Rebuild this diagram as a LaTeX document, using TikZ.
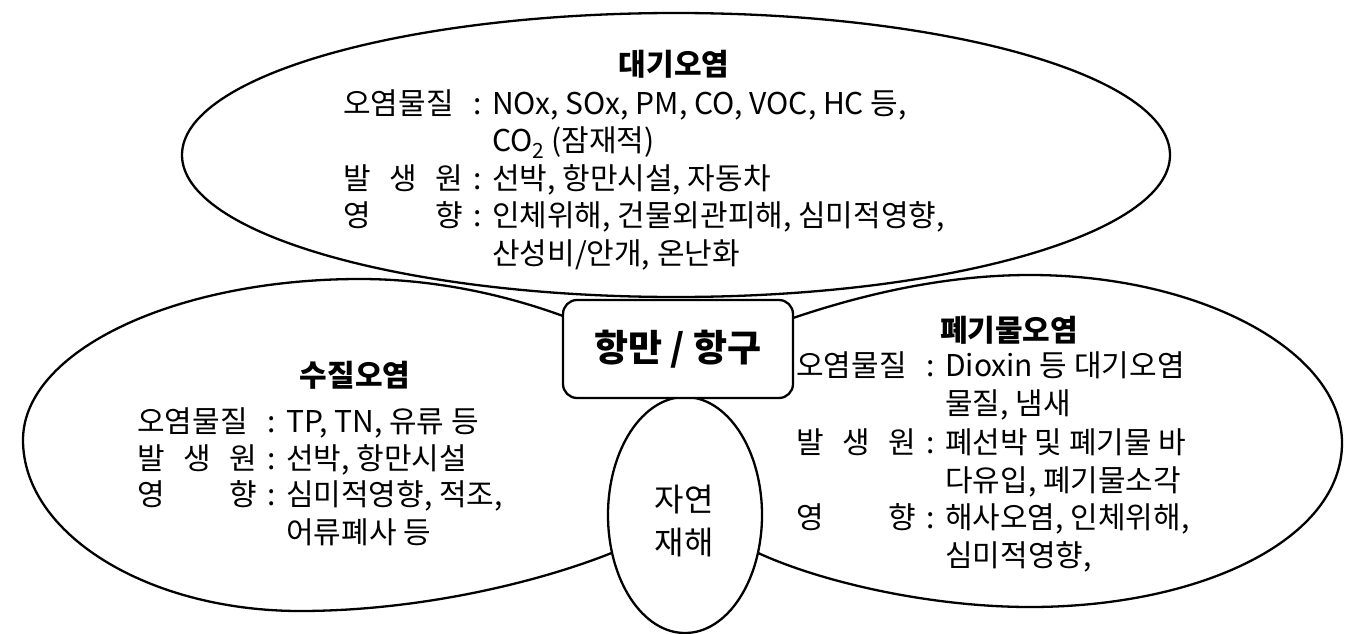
\documentclass[tikz,border=0pt]{standalone}
\usepackage{fontspec}
\setmainfont{Noto Sans CJK KR}
\usetikzlibrary{shapes.geometric}
\newlength\lblw
\setlength\lblw{120pt}
\newcommand\lbl[1]{\makebox[\lblw][s]{#1}\makebox[29pt][c]{:}\ignorespaces}
\newcommand\cont{\hspace*{149pt}\ignorespaces}
\tikzset{
  outline/.style={draw=black, line width=2.3pt},
  petal/.style={outline, line join=round},
  txt/.style={anchor=base west, inner sep=0pt, font=\fontsize{30}{36}\selectfont},
  ttl/.style={anchor=base, inner sep=0pt, font=\fontsize{30}{36}\selectfont\bfseries},
}
\begin{document}
\begin{tikzpicture}[x=1pt, y=-1pt]
\useasboundingbox (0,0) rectangle (1355,634);
\fill[white] (0,0) rectangle (1355,634);

% top ellipse (air pollution)
\node[outline, ellipse, minimum width=988pt, minimum height=284pt, inner sep=0pt] (air) at (676,155) {};

% left petal (water pollution)
\coordinate (lA) at (563,316);
\coordinate (lE) at (614,552);
\draw[petal] (lA) .. controls (500,293) and (430,279) .. (360,279)
  .. controls (175,279) and (23,351) .. (23,440)
  .. controls (23,534) and (148,611) .. (300,611)
  .. controls (420,611) and (540,582) .. (lE);

% right petal (waste pollution)
\coordinate (rA) at (793,318);
\coordinate (rE) at (756,552);
\draw[petal] (rA) .. controls (870,292) and (950,275) .. (1030,275)
  .. controls (1200,275) and (1342,351) .. (1342,443)
  .. controls (1342,540) and (1200,607) .. (1030,607)
  .. controls (930,607) and (820,582) .. (rE);

% bottom ellipse (natural disaster)
\node[outline, fill=white, ellipse, minimum width=154pt, minimum height=236pt, inner sep=0pt] (nat) at (685,515) {};
\node[inner sep=0pt, align=center, font=\fontsize{32}{43}\selectfont] (natText) at (684,521) {자연\\재해};

% central box
\node[outline, fill=white, rounded corners=14pt, minimum width=230pt, minimum height=98pt, inner sep=0pt,
      font=\fontsize{37}{44}\selectfont\bfseries] (port) at (678,349) {항만 / 항구};

% texts: air pollution
\node[ttl] (airT) at (674,76) {대기오염};
\node[txt] (air1) at (343,114) {\lbl{오염물질}NOx, SOx, PM, CO, VOC, HC 등,};
\node[txt] (air2) at (343,151.5) {\cont CO\textsubscript{2} (잠재적)};
\node[txt] (air3) at (343,189) {\lbl{발\hfill 생\hfill 원}선박, 항만시설, 자동차};
\node[txt] (air4) at (343,226.5) {\lbl{영\hfill 향}인체위해, 건물외관피해, 심미적영향,};
\node[txt] (air5) at (343,264) {\cont 산성비/안개, 온난화};

% texts: water pollution
\node[ttl] (watT) at (355,386) {수질오염};
\node[txt] (wat1) at (137,432) {\lbl{오염물질}TP, TN, 유류 등};
\node[txt] (wat2) at (137,469) {\lbl{발\hfill 생\hfill 원}선박, 항만시설};
\node[txt] (wat3) at (137,505) {\lbl{영\hfill 향}심미적영향, 적조,};
\node[txt] (wat4) at (137,543) {\cont 어류폐사 등};

% texts: waste pollution
\node[ttl] (wasT) at (1009,341) {폐기물오염};
\node[txt] (was1) at (796,376) {\lbl{오염물질}Dioxin 등 대기오염};
\node[txt] (was2) at (796,414) {\cont 물질, 냄새};
\node[txt] (was3) at (796,453) {\lbl{발\hfill 생\hfill 원}폐선박 및 폐기물 바};
\node[txt] (was4) at (796,491) {\cont 다유입, 폐기물소각};
\node[txt] (was5) at (796,528) {\lbl{영\hfill 향}해사오염, 인체위해,};
\node[txt] (was6) at (796,566) {\cont 심미적영향,};
\end{tikzpicture}
\end{document}
